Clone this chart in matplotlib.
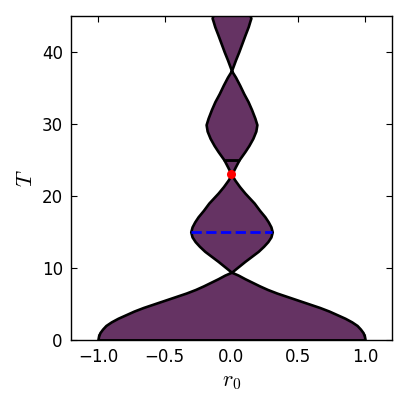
import matplotlib
matplotlib.use("Agg")
import matplotlib.pyplot as plt
import numpy as np

plt.rcParams['mathtext.fontset'] = 'cm'
plt.rcParams['font.family'] = ['DejaVu Sans']

# Half-width r0(T) of the filled region, lower part (T <= 25)
T_low = [0.0, 0.5, 1.0, 1.5, 2.0, 2.5, 3.0, 3.5, 4.0, 4.5, 5.0, 5.5, 6.0, 6.5,
         7.0, 7.5, 8.0, 8.5, 9.0, 9.4,
         10.0, 10.9, 11.6, 12.3, 13.0, 13.65, 14.3, 15.0, 15.7, 16.4, 17.1,
         18.0, 19.0, 20.4, 21.3, 22.2, 23.0,
         23.4, 24.0, 24.5, 25.0]
r_low = [1.00, 0.995, 0.985, 0.965, 0.94, 0.90, 0.85, 0.79, 0.73, 0.66, 0.58,
         0.50, 0.42, 0.34, 0.27, 0.21, 0.155, 0.10, 0.05, 0.0,
         0.04, 0.10, 0.15, 0.20, 0.24, 0.272, 0.295, 0.305, 0.295, 0.275, 0.25,
         0.21, 0.17, 0.10, 0.06, 0.025, 0.0,
         0.012, 0.028, 0.042, 0.056]

# Upper part (T >= 25)
T_up = [25.0, 26.15, 27.0, 28.0, 29.0, 29.9, 30.8, 32.0, 33.1, 34.2, 35.4,
        36.5, 37.4, 38.9, 40.0, 41.2, 42.4, 43.5, 44.3, 44.7, 45.0, 45.5]
r_up = [0.056, 0.10, 0.13, 0.16, 0.182, 0.19, 0.175, 0.15, 0.124, 0.092,
        0.061, 0.03, 0.0, 0.03, 0.054, 0.078, 0.102, 0.125, 0.138, 0.145,
        0.14, 0.11]

# Markers
dash_T = 15.0
dash_r = [-0.3, 0.3]
dot_r, dot_T = 0.0, 23.0

x_ticks = [-1.0, -0.5, 0.0, 0.5, 1.0]
y_ticks = [0, 10, 20, 30, 40]

fill_color = '#653363'

fig = plt.figure(figsize=(4.09, 4.09), dpi=100)
ax = fig.add_axes([0.174, 0.169, 0.784, 0.792])

for T, r in ((T_low, r_low), (T_up, r_up)):
    T = np.asarray(T)
    r = np.asarray(r)
    ax.fill_betweenx(T, -r, r, facecolor=fill_color, edgecolor='black',
                     linewidth=1.9, zorder=2)

ax.plot(dash_r, [dash_T, dash_T], color='blue', linestyle='--', linewidth=2.0,
        zorder=3)
ax.plot([dot_r], [dot_T], 'o', color='red', markersize=6.5, zorder=4,
        markeredgewidth=0)

ax.set_xlim(-1.2, 1.2)
ax.set_ylim(0, 45)
ax.set_xticks(x_ticks)
ax.set_yticks(y_ticks)
ax.tick_params(direction='in', top=True, right=True, length=4.5, width=0.8,
               labelsize=12, pad=6)
for s in ax.spines.values():
    s.set_linewidth(1.0)

ax.set_xlabel(r'$r_0$', fontsize=16)
ax.set_ylabel(r'$T$', fontsize=16)

fig.savefig('out.png', dpi=100, facecolor='white')
